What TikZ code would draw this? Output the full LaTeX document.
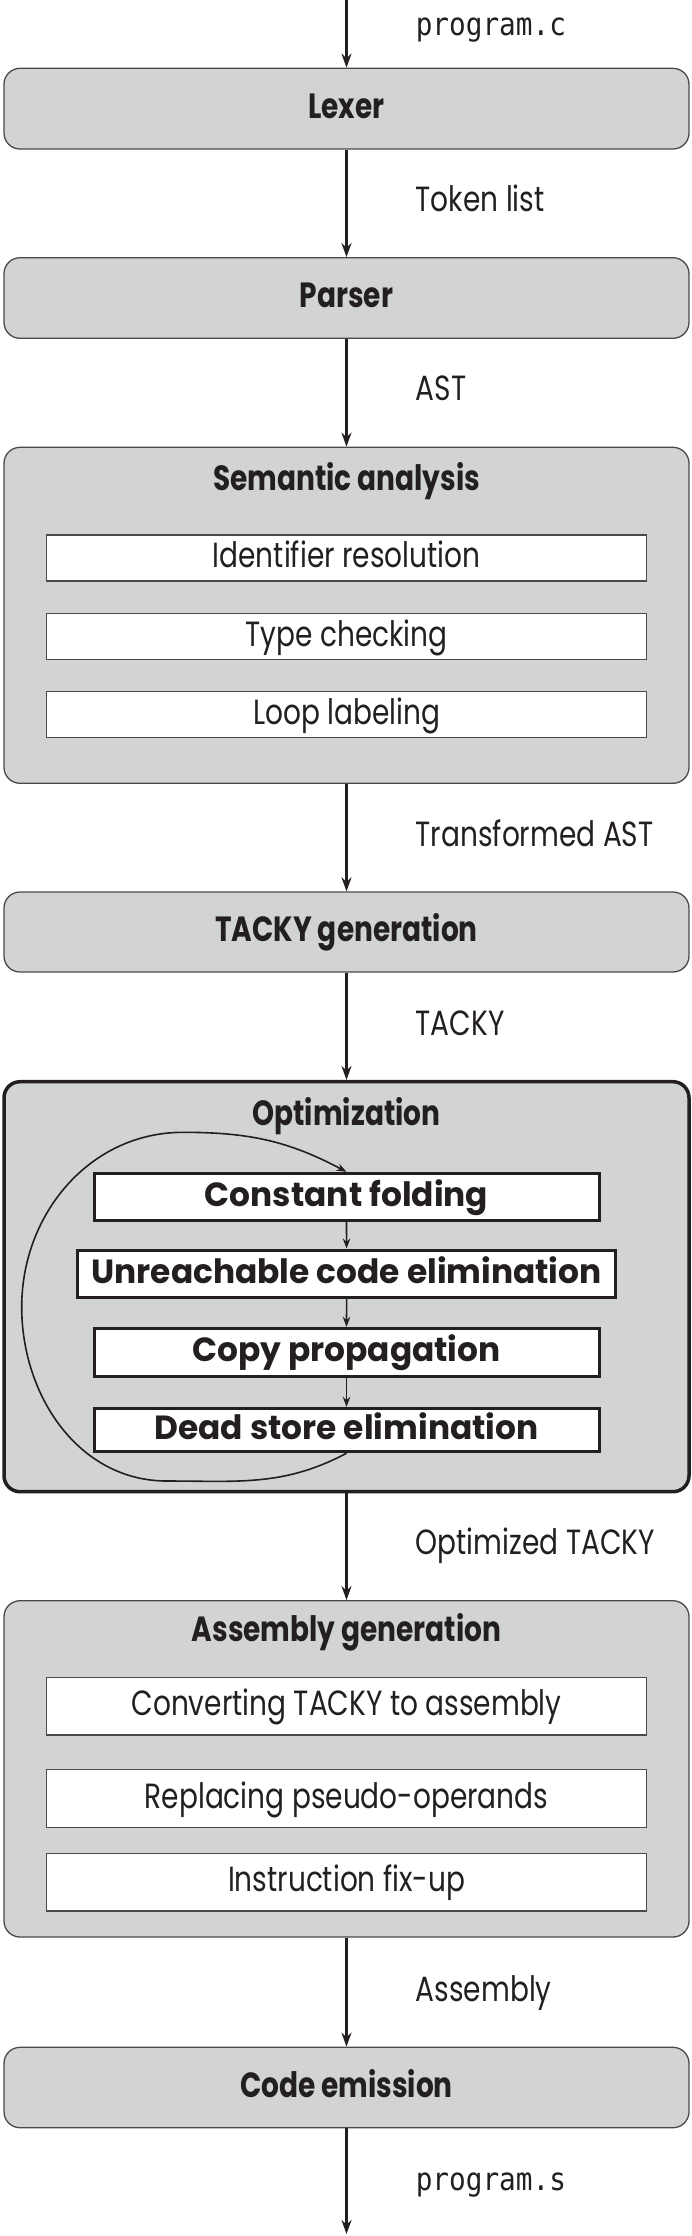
\documentclass[tikz,border=0pt]{standalone}
\usepackage{fontspec}
\setmainfont{Poppins}[FakeStretch=0.8]
\newfontfamily\heavyfont{Poppins}[FakeStretch=0.98]
\setmonofont{DejaVu Sans Mono}[FakeStretch=0.88]
\usetikzlibrary{arrows.meta}
\definecolor{boxgray}{HTML}{D1D3D4}
\definecolor{linegray}{HTML}{4A4A4A}
\definecolor{ink}{HTML}{231F20}
\tikzset{
  stage/.style={draw=linegray, line width=1.3pt, fill=boxgray, rounded corners=16pt,
    minimum width=685pt, inner sep=0pt, text height=25pt, text depth=5.6pt,
    font=\fontsize{35}{40}\selectfont\bfseries, text=ink},
  substep/.style={draw=linegray, line width=1.3pt, fill=white, minimum width=600.4pt,
    inner sep=0pt, text height=25pt, text depth=5.6pt,
    font=\fontsize{35}{40}\selectfont, text=ink},
  optstep/.style={draw=ink, line width=3pt, fill=white, inner sep=0pt,
    text height=24pt, text depth=4.6pt,
    font=\heavyfont\fontsize{33.5}{40}\selectfont\bfseries, text=ink},
  title/.style={anchor=base, inner sep=0pt, font=\fontsize{35}{40}\selectfont\bfseries, text=ink},
  lab/.style={anchor=base west, inner sep=0pt, font=\fontsize{35}{40}\selectfont, text=ink},
  monolab/.style={anchor=base west, inner sep=0pt, font=\ttfamily\fontsize{31.5}{36}\selectfont, text=ink},
  flow/.style={-{Stealth[length=14pt,width=10pt]}, line width=2.2pt, draw=ink},
  innerflow/.style={-{Stealth[length=10pt,width=7.5pt]}, line width=1.6pt, draw=ink},
}
\begin{document}
\begin{tikzpicture}[x=1pt,y=-1pt]
\useasboundingbox (0,0) rectangle (691,2236);
% stages
\node[stage, minimum height=80.7pt] (lex) at (346.5,108.65) {Lexer};
\node[stage, minimum height=80.6pt] (par) at (346.5,298) {Parser};
\node[stage, minimum height=336pt] (sem) at (346.5,615.3) {};
\node[title] (semT) at (346.5,490) {Semantic analysis};
\node[substep, minimum height=46pt] (idr) at (346.6,558) {Identifier resolution};
\node[substep, minimum height=46pt] (tyc) at (346.6,636.3) {Type checking};
\node[substep, minimum height=46pt] (lpl) at (346.6,714.7) {Loop labeling};
\node[stage, minimum height=80pt] (tac) at (346.5,932) {TACKY generation};
\node[stage, draw=ink, line width=3.5pt, minimum height=410pt] (opt) at (346.5,1286.7) {};
\node[title] (optT) at (346.5,1125) {Optimization};
\node[optstep, minimum width=505pt, minimum height=46.7pt] (cf) at (346.5,1196.7) {Constant folding};
\node[optstep, minimum width=538.4pt, minimum height=47.3pt] (uce) at (346.6,1273.7) {Unreachable code elimination};
\node[optstep, minimum width=505pt, minimum height=47.7pt] (cp) at (346.5,1352.2) {Copy propagation};
\node[optstep, minimum width=505pt, minimum height=43.4pt] (dse) at (346.5,1430) {Dead store elimination};
\node[stage, minimum height=336.3pt] (asm) at (346.5,1768.85) {};
\node[title] (asmT) at (346.5,1641.7) {Assembly generation};
\node[substep, minimum height=57.7pt] (cnv) at (346.6,1706.2) {Converting TACKY to assembly};
\node[substep, minimum height=58pt] (rep) at (346.6,1798.3) {Replacing pseudo-operands};
\node[substep, minimum height=57.7pt] (fix) at (346.6,1882.2) {Instruction fix-up};
\node[stage, minimum height=80.4pt] (ce) at (346.5,2087.5) {Code emission};
% free ends
\coordinate (src) at (346.5,0);
\coordinate (dst) at (346.5,2234);
% main flow
\draw[flow] (src) -- (lex.north);
\draw[flow] (lex.south) -- (par.north);
\draw[flow] (par.south) -- (sem.north);
\draw[flow] (sem.south) -- (tac.north);
\draw[flow] (tac.south) -- (opt.north);
\draw[flow] (opt.south) -- (asm.north);
\draw[flow] (asm.south) -- (ce.north);
\draw[flow] (ce.south) -- (dst);
% inner flow
\draw[innerflow] (cf.south) -- (uce.north);
\draw[innerflow] (uce.south) -- (cp.north);
\draw[innerflow] (cp.south) -- (dse.north);
% loop
\coordinate (lpB) at (167,1481);
\coordinate (lpL) at (21.7,1307);
\coordinate (lpT) at (183,1132.3);
\draw[innerflow] (dse.south) to[out=-152,in=0] (lpB) to[out=180,in=-90] (lpL)
  to[out=90,in=180] (lpT) to[out=0,in=152] (cf.north);
% labels
\node[monolab] (l0) at (415.6,35) {program.c};
\node[lab] (l1) at (415.6,211.7) {Token list};
\node[lab] (l2) at (415.6,400) {AST};
\node[lab] (l3) at (415.6,846) {Transformed AST};
\node[lab] (l4) at (415.6,1035.5) {TACKY};
\node[lab] (l5) at (415.6,1554) {Optimized TACKY};
\node[lab] (l6) at (415.6,2001) {Assembly};
\node[monolab] (l7) at (415.6,2190) {program.s};
\end{tikzpicture}
\end{document}
